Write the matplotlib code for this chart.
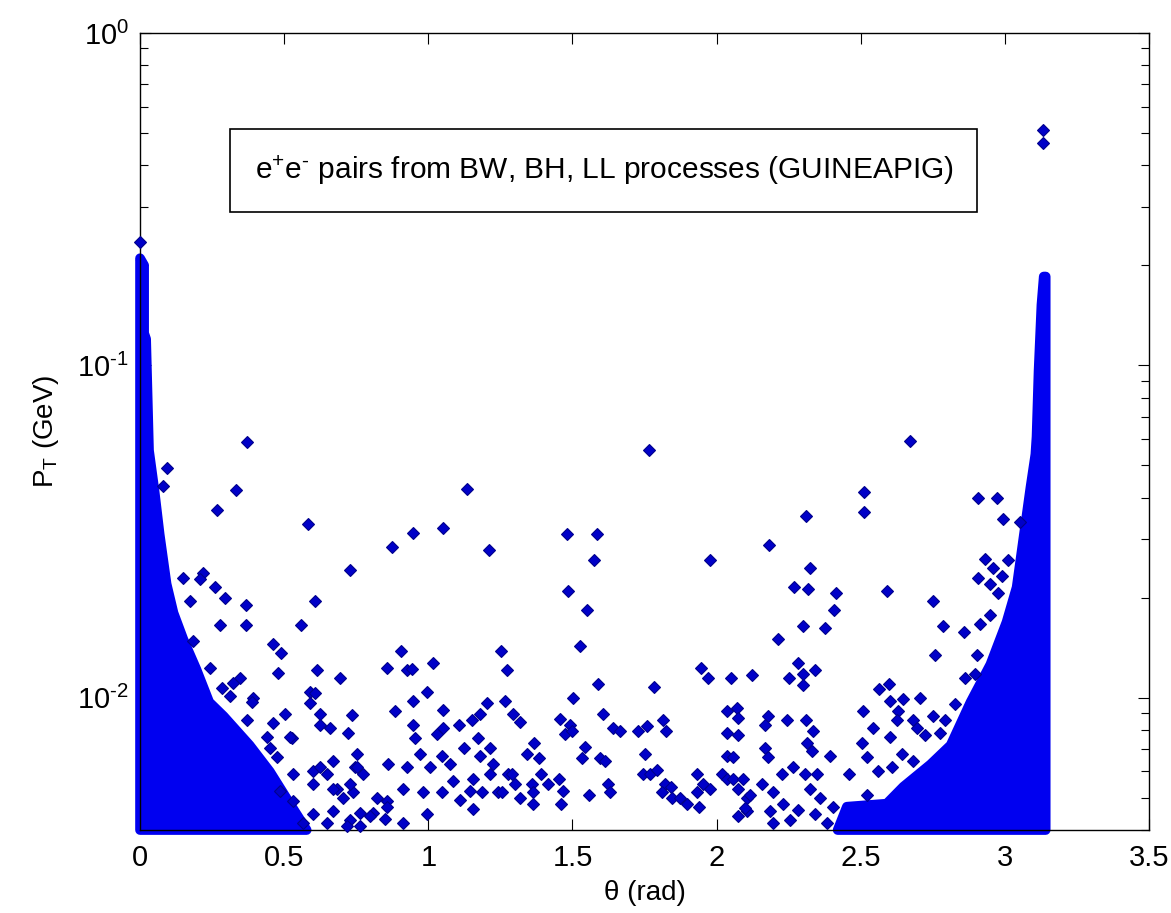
import matplotlib
matplotlib.use('Agg')
import matplotlib.pyplot as plt
from matplotlib.patches import Rectangle
from matplotlib.ticker import LogLocator, NullFormatter, FixedLocator

plt.rcParams['font.family'] = ['Liberation Sans', 'DejaVu Sans']
plt.rcParams['mathtext.fontset'] = 'custom'
plt.rcParams['mathtext.rm'] = 'Liberation Sans'
plt.rcParams['mathtext.it'] = 'Liberation Sans:italic'
plt.rcParams['mathtext.bf'] = 'Liberation Sans:bold'

# outline of the dense band near theta = 0 (marker centres)
left_theta = [0.0, 0.0, 0.014, 0.014, 0.021, 0.031, 0.050, 0.068, 0.092, 0.116,
              0.150, 0.195, 0.240, 0.290, 0.380, 0.450, 0.520, 0.578]
left_pt = [0.004, 0.21, 0.20, 0.125, 0.12, 0.0555, 0.042, 0.031, 0.022, 0.018,
           0.015, 0.0122, 0.0097, 0.0088, 0.0072, 0.0060, 0.0048, 0.004]

# outline of the dense band near theta = pi
right_theta = [2.42, 2.452, 2.59, 2.648, 2.742, 2.812, 2.881, 2.950, 3.006, 3.041,
               3.064, 3.089, 3.106, 3.110, 3.117, 3.127, 3.135, 3.1416, 3.1416]
right_pt = [0.004, 0.0047, 0.0048, 0.0054, 0.0063, 0.0072, 0.0097, 0.0126, 0.0169, 0.0215,
            0.030, 0.043, 0.054, 0.061, 0.096, 0.152, 0.185, 0.185, 0.004]

# isolated pairs
iso_theta = [
    0.0, 3.132, 3.132, 0.371, 2.671, 1.766, 0.094, 0.080, 0.333, 0.267,
    1.134, 0.583, 0.947, 1.051, 0.874, 1.211, 0.728, 0.607, 0.558, 0.461,
    0.489, 0.479, 0.614, 0.694, 0.905, 0.857, 0.926, 0.944, 1.016, 1.252,
    1.273, 0.590, 0.607, 0.590, 0.996, 0.947, 1.204, 1.266, 0.503, 0.624,
    0.735, 0.885, 1.051, 1.179, 0.461, 0.659, 0.624, 0.947, 1.107, 1.152,
    0.722, 0.954, 1.030, 1.051, 0.527, 1.173, 1.124, 1.214, 0.753, 0.971,
    1.048, 1.179, 0.669, 0.860, 0.926, 0.746, 1.006, 1.075, 1.225, 1.277,
    0.774, 1.086, 1.155, 1.214, 1.145, 1.186, 1.242, 0.912, 1.048, 1.110,
    1.155, 0.982, 0.996, 0.808, 0.857, 0.850, 0.912, 0.728, 0.763, 0.718,
    0.451, 0.475, 0.531, 0.600, 0.649, 0.683, 0.704, 0.739, 0.669, 0.600,
    0.531, 0.486, 0.565, 0.649, 0.763,
    0.149, 0.219, 0.208, 0.260, 0.295, 0.173, 0.368, 0.278, 0.368, 0.184,
    0.243, 0.347, 0.323, 0.284, 0.312, 0.392, 0.389, 0.371, 0.441, 0.520,
    0.624, 0.753, 0.600, 0.669, 0.728, 0.822, 0.857, 0.798,
    1.481, 1.585, 1.575, 1.977, 1.485, 1.551, 1.526, 1.589, 1.783, 1.946,
    1.970, 2.050, 1.502, 1.294, 1.318, 1.457, 1.492, 1.474, 1.499, 1.606,
    1.641, 1.665, 1.728, 1.759, 1.814, 1.825, 2.036, 2.071, 2.074, 2.036,
    2.074, 1.367, 1.342, 1.384, 1.544, 1.533, 1.596, 1.613, 1.752, 2.036,
    2.057, 1.290, 1.301, 1.256, 1.360, 1.363, 1.318, 1.363, 1.391, 1.415,
    1.453, 1.467, 1.460, 1.558, 1.624, 1.630, 1.745, 1.769, 1.794, 1.821,
    1.842, 1.811, 1.845, 1.873, 1.898, 1.932, 1.953, 1.977, 1.932, 1.939,
    2.019, 2.036, 2.057, 2.074, 2.106, 2.074, 2.106,
    2.512, 2.512, 2.907, 2.310, 2.182, 2.324, 2.269, 2.317, 2.414, 2.408,
    2.591, 2.751, 2.931, 2.907, 2.300, 2.376, 2.213, 2.786, 2.858, 2.914,
    2.283, 2.123, 2.251, 2.300, 2.300, 2.342, 2.758, 2.904, 2.564, 2.598,
    2.706, 2.602, 2.647, 2.827, 2.862, 2.897, 2.179, 2.168, 2.244, 2.310,
    2.335, 2.508, 2.630, 2.626, 2.682, 2.751, 2.793, 2.543, 2.602, 2.695,
    2.723, 2.775, 2.168, 2.314, 2.505, 2.179, 2.331, 2.394, 2.522, 2.643,
    2.682, 2.265, 2.092, 2.158, 2.227, 2.307, 2.349, 2.460, 2.560, 2.609,
    2.116, 2.099, 2.196, 2.231, 2.186, 2.283, 2.324, 2.359, 2.342, 2.404,
    2.522, 2.255, 2.196, 2.383,
    2.973, 2.994, 3.053, 3.011, 2.959, 2.990, 2.949, 2.977, 2.949,
]
iso_pt = [
    0.235, 0.51, 0.466, 0.059, 0.0594, 0.0555, 0.0491, 0.0433, 0.0421, 0.0368,
    0.0426, 0.0334, 0.0314, 0.0323, 0.0285, 0.0279, 0.0243, 0.0196, 0.0165, 0.0145,
    0.0136, 0.0119, 0.0121, 0.0115, 0.0138, 0.0123, 0.0121, 0.0122, 0.0127, 0.0138,
    0.0121, 0.0104, 0.0103, 0.00966, 0.0104, 0.0098, 0.00966, 0.0098, 0.00895, 0.00895,
    0.0089, 0.00914, 0.0092, 0.00895, 0.0084, 0.0081, 0.0083, 0.0083, 0.0083, 0.0086,
    0.00785, 0.00758, 0.0078, 0.0081, 0.00758, 0.00758, 0.00707, 0.00707, 0.00678, 0.00678,
    0.0067, 0.0067, 0.00646, 0.0063, 0.0062, 0.0062, 0.0062, 0.0063, 0.0063, 0.0059,
    0.0059, 0.00562, 0.0057, 0.0059, 0.00525, 0.0052, 0.0052, 0.0053, 0.0052, 0.00493,
    0.00463, 0.0052, 0.00446, 0.0045, 0.0049, 0.00433, 0.00421, 0.0043, 0.0045, 0.0041,
    0.00707, 0.00665, 0.0059, 0.00603, 0.0059, 0.0053, 0.0050, 0.0052, 0.00457, 0.00446,
    0.0049, 0.00525, 0.0042, 0.0042, 0.0041,
    0.0230, 0.0238, 0.0228, 0.0216, 0.0200, 0.0195, 0.0190, 0.0165, 0.0165, 0.0148,
    0.0123, 0.0115, 0.0111, 0.0107, 0.0101, 0.0100, 0.0097, 0.0086, 0.0076, 0.0076,
    0.0062, 0.0062, 0.0055, 0.0053, 0.0055, 0.0050, 0.0047, 0.0044,
    0.0310, 0.0310, 0.0259, 0.0259, 0.0209, 0.0184, 0.0143, 0.0110, 0.0108, 0.0123,
    0.0115, 0.0115, 0.0100, 0.00895, 0.00847, 0.00865, 0.0083, 0.0078, 0.00796, 0.00895,
    0.0081, 0.00796, 0.00796, 0.0082, 0.0086, 0.00796, 0.0091, 0.0093, 0.0087, 0.00785,
    0.0077, 0.0073, 0.00678, 0.0066, 0.0071, 0.0066, 0.0066, 0.00646, 0.00678, 0.0067,
    0.00665, 0.0059, 0.0055, 0.0052, 0.0055, 0.0052, 0.0050, 0.0048, 0.0059, 0.0055,
    0.0057, 0.00525, 0.0048, 0.0051, 0.0055, 0.0052, 0.0059, 0.0059, 0.00607, 0.0055,
    0.0054, 0.0052, 0.0050, 0.0050, 0.0048, 0.0059, 0.0055, 0.0053, 0.0052, 0.0047,
    0.0059, 0.0057, 0.0057, 0.0053, 0.0050, 0.0044, 0.00457,
    0.0417, 0.0361, 0.040, 0.0351, 0.0289, 0.0245, 0.0216, 0.0213, 0.0206, 0.0184,
    0.0209, 0.0196, 0.0262, 0.0229, 0.0164, 0.0162, 0.0150, 0.0164, 0.0158, 0.0167,
    0.0127, 0.0117, 0.0115, 0.0118, 0.0109, 0.0121, 0.0134, 0.0134, 0.0106, 0.0110,
    0.0100, 0.0098, 0.0099, 0.0096, 0.0115, 0.0118, 0.0088, 0.0083, 0.0086, 0.0086,
    0.00796, 0.0091, 0.00914, 0.0086, 0.0086, 0.0088, 0.0086, 0.0081, 0.0076, 0.0081,
    0.0077, 0.00785, 0.00707, 0.0073, 0.0073, 0.00665, 0.00693, 0.0067, 0.00665, 0.00678,
    0.00646, 0.0062, 0.0057, 0.0055, 0.0059, 0.0059, 0.0059, 0.0059, 0.0060, 0.0062,
    0.0051, 0.00467, 0.0052, 0.0048, 0.00457, 0.0046, 0.0053, 0.0050, 0.00446, 0.0047,
    0.0051, 0.0043, 0.0042, 0.0042,
    0.040, 0.0344, 0.0337, 0.0259, 0.0245, 0.0233, 0.0220, 0.0207, 0.0178,
]

x_ticks = [0, 0.5, 1, 1.5, 2, 2.5, 3, 3.5]
x_labels = ['0', '0.5', '1', '1.5', '2', '2.5', '3', '3.5']
y_ticks = [1e-2, 1e-1, 1e0]
y_labels = [r'10$^{\text{-}2}$', r'10$^{\text{-}1}$', r'10$^{0}$']

BLUE = '#0000f0'

fig = plt.figure(figsize=(11.71, 9.13), dpi=100)
ax = fig.add_axes([0.1196, 0.0909, 0.8616, 0.8730])

ax.fill(left_theta, left_pt, facecolor=BLUE, edgecolor=BLUE, linewidth=7,
        joinstyle='round', clip_on=False, zorder=2)
ax.fill(right_theta, right_pt, facecolor=BLUE, edgecolor=BLUE, linewidth=7,
        joinstyle='round', clip_on=False, zorder=2)
ax.plot(iso_theta, iso_pt, 'D', ms=6.2, mfc='#0000c8', mec='#00008c', mew=0.8,
        linestyle='none', clip_on=False, zorder=3)

ax.set_yscale('log')
ax.set_xlim(0, 3.5)
ax.set_ylim(0.004, 1)
ax.xaxis.set_major_locator(FixedLocator(x_ticks))
ax.set_xticklabels(x_labels)
ax.yaxis.set_major_locator(FixedLocator(y_ticks))
ax.set_yticklabels(y_labels)
ax.yaxis.set_minor_locator(LogLocator(base=10, subs=range(2, 10)))
ax.yaxis.set_minor_formatter(NullFormatter())

ax.tick_params(which='both', direction='in', top=True, right=True, width=0.8,
               labelsize=21, colors='black')
ax.tick_params(which='major', length=8)
ax.tick_params(which='minor', length=6)
ax.tick_params(axis='x', pad=10)
ax.tick_params(axis='y', pad=8)
for s in ax.spines.values():
    s.set_linewidth(1.0)

ax.set_xlabel('θ (rad)', fontsize=20, labelpad=6)
ax.set_ylabel(r'P$_{\mathrm{T}}$ (GeV)', fontsize=20, labelpad=12)

ax.add_patch(Rectangle((0.089, 0.775), 0.741, 0.105, transform=ax.transAxes,
                       facecolor='white', edgecolor='black', linewidth=1.2, zorder=4))
ax.text(0.460, 0.828, r'e$^{+}$e$^{\text{-}}$ pairs from BW, BH, LL processes (GUINEAPIG)',
        transform=ax.transAxes, ha='center', va='center', fontsize=21.5, zorder=5)

fig.savefig('out.png', dpi=100)
